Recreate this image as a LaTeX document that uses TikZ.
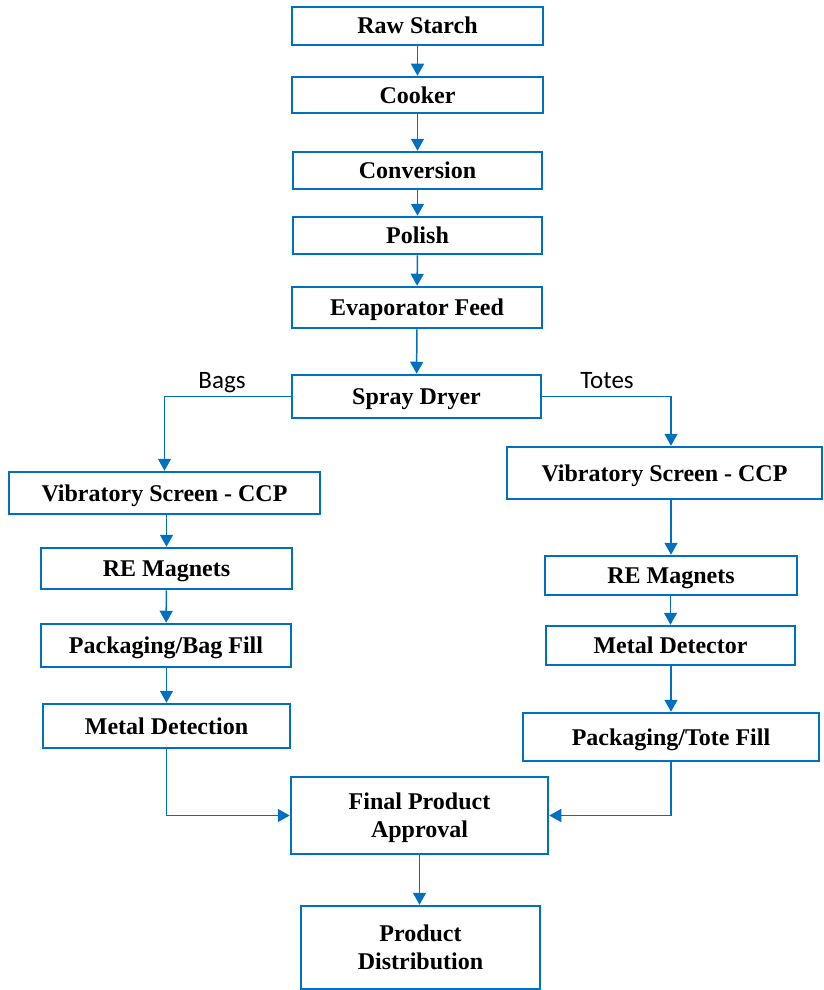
\documentclass[tikz,border=0pt]{standalone}
\usepackage{fontspec}
\setmainfont{Liberation Serif}
\newfontfamily\lblfont{Carlito}
\usetikzlibrary{arrows.meta}
\definecolor{flowblue}{RGB}{0,112,192}
\begin{document}
\begin{tikzpicture}[x=1pt,y=-1pt,
  box/.style={draw=flowblue, line width=2.5pt, fill=white, inner sep=0pt,
    align=center, text height=16pt, text depth=0pt,
    font=\fontsize{24}{28}\selectfont\bfseries},
  twoline/.style={text height=44pt, text depth=0pt},
  arr/.style={draw=flowblue, line width=1.5pt, -{Triangle[length=12pt,width=13pt]}},
  lbl/.style={font=\lblfont\fontsize{25}{30}\selectfont, anchor=base, inner sep=0pt}]
\useasboundingbox (0,0) rectangle (824,990);
\node[box, minimum width=251pt, minimum height=38pt] (raw) at (417.5,26) {Raw Starch};
\node[box, minimum width=251pt, minimum height=36pt] (cook) at (417.5,95) {Cooker};
\node[box, minimum width=249pt, minimum height=37pt] (conv) at (417.5,170.5) {Conversion};
\node[box, minimum width=249pt, minimum height=37pt] (pol) at (417.5,235.5) {Polish};
\node[box, minimum width=250pt, minimum height=41pt] (evap) at (417,307.5) {Evaporator Feed};
\node[box, minimum width=249pt, minimum height=43pt] (spray) at (416.5,396.5) {Spray Dryer};
\node[box, minimum width=311pt, minimum height=42pt] (lvs) at (164.5,493) {Vibratory Screen - CCP};
\node[box, minimum width=251pt, minimum height=41pt] (lre) at (166.5,568.5) {RE Magnets};
\node[box, minimum width=250pt, minimum height=43pt] (lbag) at (166,645.5) {Packaging/Bag Fill};
\node[box, minimum width=247pt, minimum height=44pt] (lmd) at (166.5,726) {Metal Detection};
\node[box, minimum width=315pt, minimum height=52pt] (rvs) at (664.5,473) {Vibratory Screen - CCP};
\node[box, minimum width=252pt, minimum height=39pt] (rre) at (671,575.5) {RE Magnets};
\node[box, minimum width=249pt, minimum height=39pt] (rmd) at (670.5,645.5) {Metal Detector};
\node[box, minimum width=296pt, minimum height=48pt] (rtote) at (671,737) {Packaging/Tote Fill};
\node[box, twoline, minimum width=257pt, minimum height=77pt] (final) at (419.5,815.5) {Final Product\\Approval};
\node[box, twoline, minimum width=239pt, minimum height=83pt] (dist) at (420.5,947.5) {Product\\Distribution};
\node[lbl] (bags) at (222,388) {Bags};
\node[lbl] (totes) at (607,388) {Totes};
\draw[arr] (raw) -- (cook);
\draw[arr] (cook) -- (conv);
\draw[arr] (conv) -- (pol);
\draw[arr] (pol) -- (evap);
\draw[arr] (evap) -- (spray);
\draw[arr] (spray.west) -| (lvs.north);
\draw[arr] (spray.east) -| (rre.north |- rvs.north);
\draw[arr] (lvs.south -| lre.north) -- (lre.north);
\draw[arr] (lre) -- (lbag);
\draw[arr] (lbag.south -| lmd.north) -- (lmd.north);
\draw[arr] (rvs.south -| rre.north) -- (rre.north);
\draw[arr] (rre.south -| rmd.north) -- (rmd.north);
\draw[arr] (rmd.south -| rtote.north) -- (rtote.north);
\draw[arr] (lmd.south) |- (final.west);
\draw[arr] (rtote.south) |- (final.east);
\draw[arr] (final.south) -- (final.south |- dist.north);
\end{tikzpicture}
\end{document}
